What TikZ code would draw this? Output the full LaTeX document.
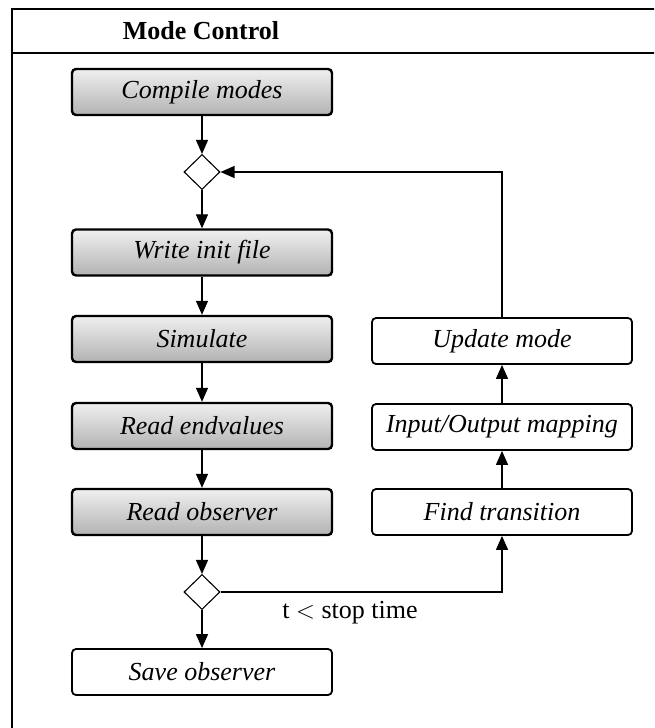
\documentclass[tikz,border=0pt]{standalone}
\usepackage{fontspec}
\setmainfont{Liberation Serif}
\usetikzlibrary{arrows.meta,shapes.geometric}
\begin{document}
\begin{tikzpicture}[x=1pt,y=-1pt,
  font=\fontsize{26}{30}\selectfont,
  shadedbox/.style={draw=black, line width=2.4pt, rounded corners=4pt,
    top color=white!94!black, bottom color=black!30,
    minimum width=260pt, minimum height=46pt, inner sep=0pt,
    font=\fontsize{26}{30}\selectfont\itshape},
  plainbox/.style={draw=black, line width=1.8pt, rounded corners=4pt, fill=white,
    minimum width=260pt, minimum height=46pt, inner sep=0pt,
    font=\fontsize{26}{30}\selectfont\itshape},
  decision/.style={draw=black, line width=1.1pt, diamond, aspect=1,
    minimum width=36pt, minimum height=35pt, inner sep=0pt, fill=white},
  conn/.style={draw=black, line width=1.3pt, -{Triangle[length=14pt,width=12pt]}},
  frameline/.style={draw=black, line width=2.4pt}
]
\clip (0,0) rectangle (654,728);
\fill[white] (0,0) rectangle (654,728);
% frame
\draw[frameline] (12,740) -- (12,9) -- (670,9);
\draw[frameline] (12,53) -- (670,53);
\node[font=\fontsize{26}{30}\selectfont\bfseries] (title) at (201,31) {Mode Control};

% left column
\node[shadedbox] (compile) at (202,92) {Compile modes};
\node[decision] (d1) at (202,172) {};
\node[shadedbox] (write) at (202,252.5) {Write init file};
\node[shadedbox] (sim) at (202,339) {Simulate};
\node[shadedbox] (endv) at (202,426) {Read endvalues};
\node[shadedbox] (obs) at (202,512) {Read observer};
\node[decision] (d2) at (202,592) {};
\node[plainbox] (save) at (202,672) {Save observer};

% right column
\node[plainbox] (upd) at (502,341) {Update mode};
\node[plainbox] (io) at (502,427) {Input/Output mapping};
\node[plainbox] (ft) at (502,512) {Find transition};

\node (cond) at (350,613) {t $<$ stop time};

% connectors
\draw[conn] (compile) -- (d1);
\draw[conn] (d1) -- (write);
\draw[conn] (write) -- (sim);
\draw[conn] (sim) -- (endv);
\draw[conn] (endv) -- (obs);
\draw[conn] (obs) -- (d2);
\draw[conn] (d2) -- (save);
\draw[conn] (d2.east) -| (ft.south);
\draw[conn] (ft) -- (io);
\draw[conn] (io) -- (upd);
\draw[conn] (upd.north) |- (d1.east);
\end{tikzpicture}
\end{document}
